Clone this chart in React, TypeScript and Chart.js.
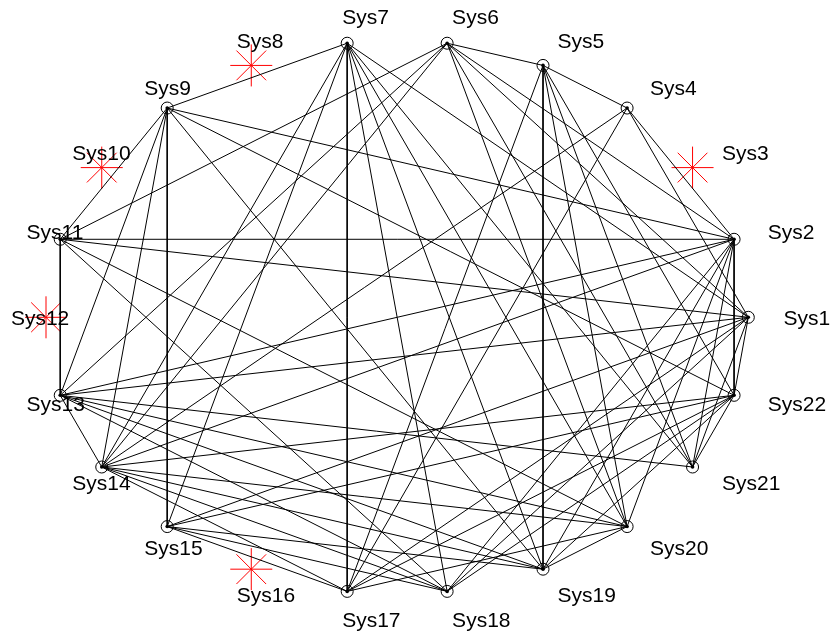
import React, { useEffect, useRef } from "react";
import { Chart, registerables } from "chart.js";

Chart.register(...registerables);

// Node names, in circle order (Sys1 at angle 0, counter-clockwise)
const nodeNames: string[] = [
  "Sys1", "Sys2", "Sys3", "Sys4", "Sys5", "Sys6", "Sys7", "Sys8", "Sys9", "Sys10", "Sys11",
  "Sys12", "Sys13", "Sys14", "Sys15", "Sys16", "Sys17", "Sys18", "Sys19", "Sys20", "Sys21", "Sys22",
];

// Isolated systems (drawn as red asterisks)
const isolatedNodes: string[] = ["Sys3", "Sys8", "Sys10", "Sys12", "Sys16"];

// Edges: edgeFrom[k] -- edgeTo[k] (node numbers)
const edgeFrom: number[] = [
  1, 1, 1, 1, 1, 1, 1, 1, 1, 1,
  2, 2, 2, 2, 2, 2, 2, 2, 2, 2, 2,
  4, 4, 4,
  5, 5, 5, 5, 5, 5,
  6, 6, 6, 6, 6,
  7, 7, 7, 7, 7, 7, 7, 7,
  9, 9, 9, 9, 9, 9,
  11, 11, 11,
  13, 13, 13, 13, 13,
  14, 14, 14, 14, 14,
  15, 15, 15, 15,
  17, 17,
  18,
  19, 19,
  21,
];
const edgeTo: number[] = [
  4, 6, 7, 11, 13, 22, 21, 18, 15, 17,
  4, 6, 9, 11, 13, 14, 22, 21, 20, 19, 18,
  5, 14, 17,
  6, 19, 17, 20, 21, 22,
  11, 13, 14, 20, 21,
  9, 17, 14, 15, 18, 19, 20, 21,
  11, 15, 22, 19, 13, 14,
  13, 20, 18,
  14, 21, 20, 19, 18,
  22, 20, 19, 18, 17,
  17, 18, 19, 22,
  22, 20,
  22,
  20, 22,
  22,
];

const N = nodeNames.length;
const nodeX = (i: number) => Math.cos((2 * Math.PI * i) / N);
const nodeY = (i: number) => Math.sin((2 * Math.PI * i) / N);

export default function App() {
  const ref = useRef<HTMLCanvasElement | null>(null);

  useEffect(() => {
    if (!ref.current) return;
    const connected = nodeNames.filter((n) => !isolatedNodes.includes(n));
    const edgeSets = edgeFrom.map((a, k) => {
      const b = edgeTo[k];
      return {
        type: "scatter" as const,
        data: [
          { x: nodeX(a - 1), y: nodeY(a - 1) },
          { x: nodeX(b - 1), y: nodeY(b - 1) },
        ],
        showLine: true,
        borderColor: "#000000",
        borderWidth: 1,
        pointRadius: 0,
        fill: false,
        clip: false as any,
      };
    });
    const nodePts = connected.map((n) => {
      const i = nodeNames.indexOf(n);
      return { x: nodeX(i), y: nodeY(i) };
    });
    const isoPts = isolatedNodes.map((n) => {
      const i = nodeNames.indexOf(n);
      return { x: nodeX(i), y: nodeY(i) };
    });

    const labelPlugin = {
      id: "nodeLabels",
      afterDatasetsDraw(chart: any) {
        const ctx = chart.ctx;
        const xs = chart.scales.x;
        const ys = chart.scales.y;
        ctx.save();
        ctx.fillStyle = "#000000";
        ctx.font = '21px "Liberation Sans", Arial, sans-serif';
        ctx.textAlign = "left";
        ctx.textBaseline = "middle";
        nodeNames.forEach((n, i) => {
          const px = xs.getPixelForValue(1.1 * nodeX(i));
          const py = ys.getPixelForValue(1.1 * nodeY(i));
          ctx.fillText(n, px, py + 2);
        });
        ctx.restore();
      },
    };

    const chart = new Chart(ref.current, {
      type: "scatter",
      data: {
        datasets: [
          ...edgeSets,
          {
            data: nodePts,
            pointStyle: "circle",
            pointRadius: 6,
            pointBorderColor: "#000000",
            pointBackgroundColor: "rgba(0,0,0,0)",
            pointBorderWidth: 1,
            showLine: false,
            clip: false as any,
          },
          {
            data: nodePts,
            pointStyle: "circle",
            pointRadius: 1.8,
            pointBorderColor: "#000000",
            pointBackgroundColor: "#000000",
            pointBorderWidth: 0,
            showLine: false,
            clip: false as any,
          },
          {
            data: isoPts,
            pointStyle: "star",
            pointRadius: 21,
            pointBorderColor: "#ff0000",
            pointBackgroundColor: "#ff0000",
            pointBorderWidth: 1,
            showLine: false,
            clip: false as any,
          },
        ] as any,
      },
      options: {
        responsive: false,
        animation: false,
        maintainAspectRatio: false,
        layout: { padding: 0, autoPadding: false } as any,
        plugins: { legend: { display: false }, tooltip: { enabled: false } },
        events: [],
        scales: {
          x: { type: "linear", display: false, min: -1.131, max: 1.2355 },
          y: { type: "linear", display: false, min: -1.1437, max: 1.1459 },
        },
      },
      plugins: [labelPlugin],
    });
    return () => chart.destroy();
  }, []);

  return (
    <div style={{ position: "fixed", left: 0, top: 0, width: 831, height: 634, background: "#ffffff" }}>
      <canvas ref={ref} width={831} height={634} />
    </div>
  );
}
